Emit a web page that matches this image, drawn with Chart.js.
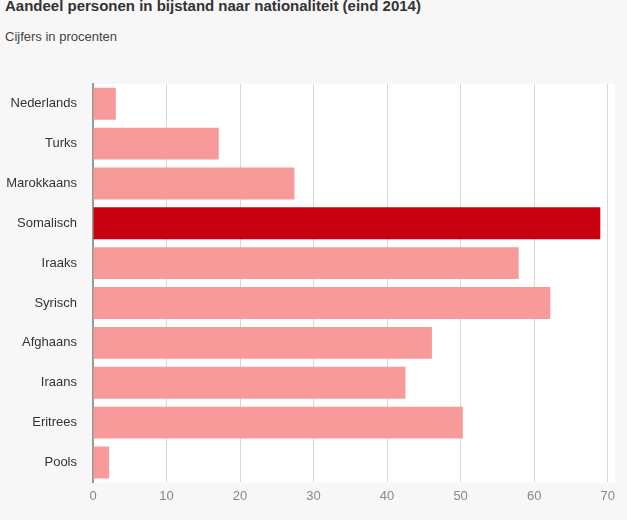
<!DOCTYPE html>
<html>
<head>
<meta charset="utf-8">
<script src="https://cdn.jsdelivr.net/npm/chart.js@4"></script>
<style>
    body { margin: 0; background: #f7f7f7; font-family: "Liberation Sans", Arial, sans-serif; width: 627px; height: 520px; overflow: hidden; position: relative; }
    #title { position: absolute; left: 5px; top: -3px; font-size: 15px; font-weight: bold; color: #333; }
    #sub { position: absolute; left: 5px; top: 29px; font-size: 13px; color: #444; }
    #wrap { position: absolute; left: 0; top: 60px; width: 627px; height: 460px; }
</style>
</head>
<body>
<div id="title">Aandeel personen in bijstand naar nationaliteit (eind 2014)</div>
<div id="sub">Cijfers in procenten</div>
<div id="wrap"><canvas id="c"></canvas></div>
<script>
"use strict";

const categories = ["Nederlands", "Turks", "Marokkaans", "Somalisch", "Iraaks", "Syrisch", "Afghaans", "Iraans", "Eritrees", "Pools"];
const shares = [3.1, 17.1, 27.4, 69.0, 57.9, 62.2, 46.1, 42.5, 50.3, 2.2];
const xTicks = [0, 10, 20, 30, 40, 50, 60, 70];
const highlight = "Somalisch";

const plotBackground = {
    id: "plotBackground",
    beforeDraw(chart) {
        const a = chart.chartArea;
        chart.ctx.save();
        chart.ctx.fillStyle = "#ffffff";
        chart.ctx.fillRect(a.left, a.top, a.right - a.left, a.bottom - a.top);
        chart.ctx.restore();
    }
};

new Chart(document.getElementById("c"), {
    type: "bar",
    data: {
        labels: categories,
        datasets: [{
            data: shares,
            backgroundColor: categories.map(c => c === highlight ? "#c8000f" : "#f99a9a"),
            categoryPercentage: 0.8,
            barPercentage: 1.0
        }]
    },
    options: {
        indexAxis: "y",
        responsive: true,
        maintainAspectRatio: false,
        animation: { duration: 0 },
        layout: { padding: { top: 18, right: 12, left: 0, bottom: 10 } },
        plugins: { legend: { display: false }, tooltip: { enabled: false } },
        scales: {
            x: {
                min: 0,
                max: 71,
                afterBuildTicks(scale) { scale.ticks = xTicks.map(v => ({ value: v })); },
                ticks: { color: "#888", font: { family: "Liberation Sans", size: 13 }, padding: 6, autoSkip: false },
                grid: { color: "#d8d8d8", drawTicks: false },
                border: { display: false }
            },
            y: {
                afterFit(scale) { scale.width = 93; },
                ticks: { color: "#333", font: { family: "Liberation Sans", size: 13 }, padding: 16 },
                grid: { display: false, drawTicks: false },
                border: { display: true, color: "#999", width: 2 }
            }
        }
    },
    plugins: [plotBackground]
});
</script>
</body>
</html>
